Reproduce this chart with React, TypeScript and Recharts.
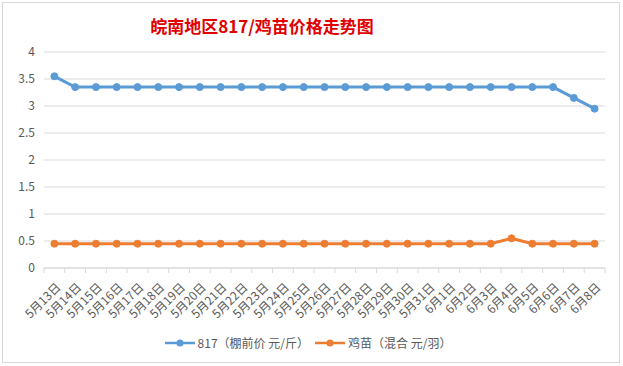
import React from 'react';
import { LineChart, Line, XAxis, YAxis, CartesianGrid } from 'recharts';

const dates = [
  '5月13日', '5月14日', '5月15日', '5月16日', '5月17日', '5月18日', '5月19日',
  '5月20日', '5月21日', '5月22日', '5月23日', '5月24日', '5月25日', '5月26日',
  '5月27日', '5月28日', '5月29日', '5月30日', '5月31日', '6月1日', '6月2日',
  '6月3日', '6月4日', '6月5日', '6月6日', '6月7日', '6月8日',
];

const price817 = [
  3.55, 3.35, 3.35, 3.35, 3.35, 3.35, 3.35, 3.35, 3.35, 3.35, 3.35, 3.35, 3.35, 3.35,
  3.35, 3.35, 3.35, 3.35, 3.35, 3.35, 3.35, 3.35, 3.35, 3.35, 3.35, 3.15, 2.95,
];

const chickPrice = [
  0.45, 0.45, 0.45, 0.45, 0.45, 0.45, 0.45, 0.45, 0.45, 0.45, 0.45, 0.45, 0.45, 0.45,
  0.45, 0.45, 0.45, 0.45, 0.45, 0.45, 0.45, 0.45, 0.55, 0.45, 0.45, 0.45, 0.45,
];

const yTicks = [0, 0.5, 1, 1.5, 2, 2.5, 3, 3.5, 4];

const seriesNames = ['817（棚前价 元/斤）', '鸡苗（混合 元/羽）'];
const seriesColors = ['#5B9BD5', '#ED7D31'];
const title = '皖南地区817/鸡苗价格走势图';

const data = dates.map((d, i) => ({ date: d, a: price817[i], b: chickPrice[i] }));

const W = 616;
const H = 359;
const MARGIN = { top: 49, right: 14, left: 0, bottom: 34 };
const Y_W = 41;
const BAND = (W - MARGIN.left - MARGIN.right - Y_W) / dates.length;
const FONT = '"Noto Sans CJK SC", "Noto Sans", sans-serif';

const XTick = (props: any) => {
  const { x, y, payload, index } = props;
  const tx = x + 7;
  const ty = y + 20;
  return (
    <g>
      <line x1={x - BAND / 2} x2={x - BAND / 2} y1={y} y2={y + 5} stroke="#d9d9d9" />
      {index === dates.length - 1 && (
        <line x1={x + BAND / 2} x2={x + BAND / 2} y1={y} y2={y + 5} stroke="#d9d9d9" />
      )}
      <text
        x={tx}
        y={ty}
        transform={`rotate(-45, ${tx}, ${ty})`}
        textAnchor="end"
        fontSize={12}
        fill="#595959"
        fontFamily={FONT}
      >
        {payload.value}
      </text>
    </g>
  );
};

const LegendItem = ({ name, color }: { name: string; color: string }) => (
  <span style={{ display: 'inline-flex', alignItems: 'center', marginRight: 6 }}>
    <svg width={30} height={10} style={{ marginRight: 3 }}>
      <line x1={0} x2={30} y1={5} y2={5} stroke={color} strokeWidth={2.5} />
      <circle cx={15} cy={5} r={3.5} fill={color} />
    </svg>
    <span>{name}</span>
  </span>
);

export default function App() {
  return (
    <div
      style={{
        position: 'absolute',
        left: 2,
        top: 2,
        width: W,
        height: H,
        border: '1px solid #d9d9d9',
        background: '#fff',
        fontFamily: FONT,
      }}
    >
      <div
        style={{
          position: 'absolute',
          left: 0,
          width: 518,
          top: 10,
          textAlign: 'center',
          color: '#E00000',
          fontSize: 17,
          fontWeight: 'bold',
        }}
      >
        {title}
      </div>
      <LineChart width={W} height={H} data={data} margin={MARGIN}>
        <CartesianGrid vertical={false} stroke="#d9d9d9" />
        <XAxis
          dataKey="date"
          interval={0}
          tickLine={false}
          tickSize={0}
          tickMargin={0}
          height={60}
          padding={{ left: BAND / 2, right: BAND / 2 }}
          axisLine={{ stroke: '#d9d9d9' }}
          tick={<XTick />}
        />
        <YAxis
          width={Y_W}
          domain={[0, 4]}
          ticks={yTicks}
          axisLine={false}
          tickLine={false}
          tickSize={0}
          tickMargin={9}
          tick={{ fontSize: 12, fill: '#595959', fontFamily: FONT }}
        />
        <Line
          dataKey="a"
          name={seriesNames[0]}
          stroke={seriesColors[0]}
          strokeWidth={3}
          dot={{ r: 3.5, fill: seriesColors[0], stroke: seriesColors[0], strokeWidth: 1 }}
          isAnimationActive={false}
        />
        <Line
          dataKey="b"
          name={seriesNames[1]}
          stroke={seriesColors[1]}
          strokeWidth={3}
          dot={{ r: 3.5, fill: seriesColors[1], stroke: seriesColors[1], strokeWidth: 1 }}
          isAnimationActive={false}
        />
      </LineChart>
      <div
        style={{
          position: 'absolute',
          left: 0,
          width: W,
          top: 331,
          display: 'flex',
          justifyContent: 'center',
          fontSize: 12,
          color: '#595959',
        }}
      >
        {seriesNames.map((n, i) => (
          <LegendItem key={n} name={n} color={seriesColors[i]} />
        ))}
      </div>
    </div>
  );
}
